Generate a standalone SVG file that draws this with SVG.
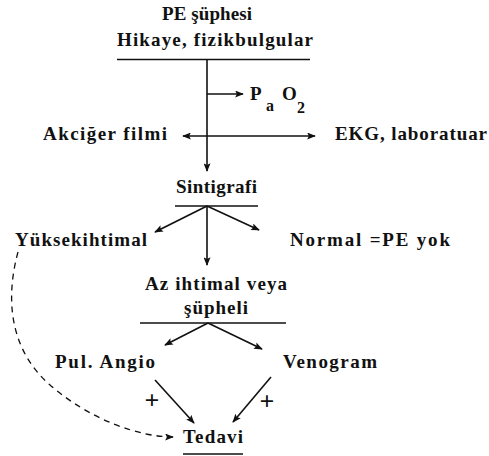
<svg xmlns="http://www.w3.org/2000/svg" width="489" height="456" viewBox="0 0 489 456">
<style>
text{font-family:"Liberation Serif","DejaVu Serif","Times New Roman",serif;font-weight:bold;font-size:19px;fill:#111}
.sub{font-size:16px}
.plus{font-size:26px}
.ln{stroke:#111;stroke-width:1.6;fill:none}
.ar{stroke:#111;stroke-width:1.6;fill:none;marker-end:url(#ah)}
.dash{stroke:#111;stroke-width:1.3;fill:none;stroke-dasharray:6 5;marker-end:url(#ah)}
</style>
<defs>
<marker id="ah" viewBox="0 0 10 8" refX="9" refY="4" markerWidth="9" markerHeight="7" markerUnits="userSpaceOnUse" orient="auto-start-reverse">
<path d="M0,0 L10,4 L0,8 L2,4 z" fill="#111"/>
</marker>
</defs>
<g id="connectors">
<line class="ar" x1="207" y1="59" x2="207" y2="171"/>
<line class="ar" x1="207" y1="94" x2="243" y2="94"/>
<line class="ln" x1="183" y1="136" x2="315" y2="136" marker-start="url(#ah)" marker-end="url(#ah)"/>
<line class="ar" x1="207" y1="206" x2="155" y2="232"/>
<line class="ar" x1="207" y1="206" x2="259" y2="230"/>
<line class="ar" x1="207" y1="206" x2="207" y2="265"/>
<line class="ar" x1="208" y1="323" x2="165" y2="345"/>
<line class="ar" x1="208" y1="323" x2="262" y2="349"/>
<line class="ar" x1="155" y1="380" x2="194" y2="423"/>
<line class="ar" x1="271" y1="377" x2="233" y2="422"/>
<path class="dash" d="M18,252 C5,300 10,350 50,385 C90,420 140,437 173,437"/>
<text class="plus" x="152" y="409" text-anchor="middle">+</text>
<text class="plus" x="267" y="410" text-anchor="middle">+</text>
</g>
<g id="pe">
<text x="162" y="20" textLength="90">PE şüphesi</text>
<text x="117" y="46" textLength="196">Hikaye, fizikbulgular</text>
<line class="ln" x1="117" y1="59.5" x2="310" y2="59.5"/>
</g>
<g id="pao2">
<text><tspan x="250" y="100">P</tspan><tspan class="sub" x="266" y="111">a</tspan><tspan x="282" y="100">O</tspan><tspan class="sub" x="297" y="113">2</tspan></text>
</g>
<g id="akciger"><text x="43" y="140" textLength="124">Akciğer filmi</text></g>
<g id="ekg"><text x="335" y="140" textLength="152">EKG, laboratuar</text></g>
<g id="sintigrafi">
<text x="176" y="193" textLength="81">Sintigrafi</text>
<line class="ln" x1="175" y1="206" x2="258" y2="206"/>
</g>
<g id="yuksek"><text x="15" y="246" textLength="132">Yüksekihtimal</text></g>
<g id="normal"><text x="290" y="246" textLength="160">Normal =PE yok</text></g>
<g id="az">
<text x="145" y="290" textLength="142">Az ihtimal veya</text>
<text x="184" y="314" textLength="64">şüpheli</text>
<line class="ln" x1="140" y1="323" x2="286" y2="323"/>
</g>
<g id="pulangio"><text x="55" y="368" textLength="100">Pul. Angio</text></g>
<g id="venogram"><text x="283" y="368" textLength="94">Venogram</text></g>
<g id="tedavi">
<text x="183" y="443" textLength="60">Tedavi</text>
<line class="ln" x1="183" y1="454" x2="243" y2="454"/>
</g>
</svg>
